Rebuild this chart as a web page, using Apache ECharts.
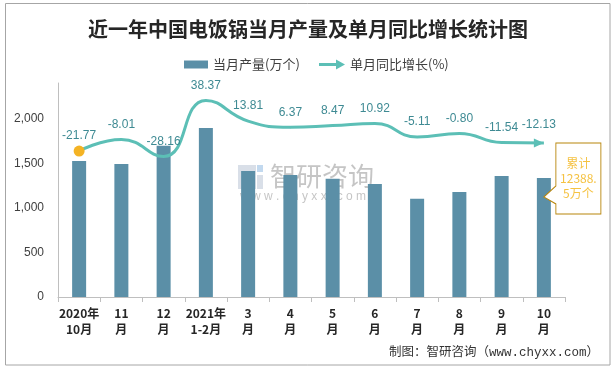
<!DOCTYPE html>
<html>
<head>
<meta charset="utf-8">
<script src="https://cdn.jsdelivr.net/npm/echarts@6/dist/echarts.min.js"></script>
<style>
html,body{margin:0;padding:0;background:#fff;}
#chart{width:616px;height:370px;}
</style>
</head>
<body>
<div id="chart"></div>
<script>
var categories = ['2020年\n10月', '11\n月', '12\n月', '2021年\n1-2月', '3\n月', '4\n月', '5\n月', '6\n月', '7\n月', '8\n月', '9\n月', '10\n月'];
var production = [1531, 1497, 1700, 1902, 1418, 1373, 1331, 1272, 1106, 1182, 1362, 1339];
var growth = [-21.77, -8.01, -28.16, 38.37, 13.81, 6.37, 8.47, 10.92, -5.11, -0.80, -11.54, -12.13];
var yTicks = [0, 500, 1000, 1500, 2000];
var cumulativeText = '累计\n12388.\n5万个';

var barColor = '#5B8FA7';
var lineColor = '#5CBFB6';

var lineData = growth.map(function (v, i) {
  var item = { value: v, symbol: 'circle', symbolSize: 2, itemStyle: { color: lineColor } };
  if (i === 0) {
    item.symbolSize = 11;
    item.itemStyle = { color: '#F4B324' };
    item.label = { distance: 4 };
  }
  if (i === growth.length - 1) {
    item.symbol = 'triangle';
    item.symbolSize = [9, 10];
    item.symbolRotate = -90;
    item.symbolOffset = [-5, 0];
    item.itemStyle = { color: lineColor };
  }
  return item;
});

var chart = echarts.init(document.getElementById('chart'), null, { renderer: 'canvas' });
var option = {
  animation: false,
  backgroundColor: '#fff',
  title: {
    text: '近一年中国电饭锅当月产量及单月同比增长统计图',
    left: 'center',
    top: 14,
    textStyle: { fontSize: 20, fontWeight: 'bold', color: '#262626', fontFamily: 'Noto Sans CJK SC' }
  },
  legend: [{
    data: [{ name: '当月产量(万个)', icon: 'rect' }],
    left: 179, top: 53,
    itemWidth: 24, itemHeight: 8,
    textStyle: { fontSize: 13, color: '#404040', fontFamily: 'Noto Sans CJK SC' }
  }, {
    data: [{ name: '单月同比增长(%)', icon: 'path://M0,3.5 L17,3.5 L17,0 L26,5 L17,10 L17,6.5 L0,6.5 Z' }],
    left: 314, top: 53,
    itemWidth: 26, itemHeight: 10,
    textStyle: { fontSize: 13, color: '#404040', fontFamily: 'Noto Sans CJK SC' }
  }],
  grid: { left: 58, right: 51, top: 83, bottom: 73 },
  xAxis: {
    type: 'category',
    data: categories,
    boundaryGap: true,
    axisLine: { lineStyle: { color: '#BFBFBF' } },
    axisTick: { show: true, length: 5, lineStyle: { color: '#BFBFBF' } },
    axisLabel: { fontSize: 12, fontWeight: 'bold', color: '#262626', lineHeight: 16, margin: 8, interval: 0, fontFamily: 'Noto Sans CJK SC' }
  },
  yAxis: [{
    type: 'value',
    min: 0, max: 2407, interval: 500,
    axisLine: { show: true, lineStyle: { color: '#BFBFBF' } },
    axisTick: { show: false },
    splitLine: { show: false },
    axisLabel: {
      showMaxLabel: false, fontSize: 12, color: '#404040', margin: 14, fontFamily: 'Liberation Sans',
      formatter: function (v) { return yTicks.indexOf(v) >= 0 ? echarts.format.addCommas(v) : ''; }
    }
  }, {
    type: 'value',
    min: -195, max: 59,
    show: false,
    splitLine: { show: false }
  }],
  series: [{
    name: '当月产量(万个)',
    type: 'bar',
    data: production,
    barWidth: 14,
    itemStyle: { color: barColor },
    markPoint: {
      symbol: 'path://M12,0 L57,0 L57,71 L12,71 L12,61 L0,54 L12,43 Z',
      symbolSize: [57, 71],
      symbolOffset: [28.5, 0.5],
      itemStyle: { color: '#ffffff', borderColor: '#B8860B', borderWidth: 1 },
      label: {
        show: true, position: 'inside', offset: [6, 0],
        formatter: cumulativeText,
        color: '#F5C242', fontSize: 12, lineHeight: 15, fontFamily: 'Noto Sans CJK SC'
      },
      data: [{ coord: [categories[categories.length - 1], production[production.length - 1]] }]
    }
  }, {
    name: '单月同比增长(%)',
    type: 'line',
    yAxisIndex: 1,
    data: lineData,
    smooth: 0.5,
    color: lineColor,
    lineStyle: { color: lineColor, width: 3 },
    label: {
      show: true, position: 'top', distance: 8,
      color: '#3E8A93', fontSize: 12, fontFamily: 'Liberation Sans',
      formatter: function (p) { return p.value.toFixed(2); }
    },
    z: 3
  }],
  graphic: [{
    type: 'rect',
    shape: { x: 5.5, y: 3.5, width: 604.5, height: 361.5 },
    style: { fill: 'none', stroke: '#A6A6A6', lineWidth: 1 },
    silent: true
  }, {
    type: 'group',
    left: 238, top: 163,
    silent: true,
    z: 10,
    children: [
      { type: 'rect', shape: { x: 0, y: 2, width: 18, height: 24 }, style: { fill: 'rgba(170,185,205,0.45)' } },
      { type: 'rect', shape: { x: 19, y: 2, width: 6, height: 7 }, style: { fill: 'rgba(120,170,220,0.45)' } },
      { type: 'rect', shape: { x: 19, y: 12, width: 6, height: 14 }, style: { fill: 'rgba(170,185,205,0.45)' } },
      { type: 'text', x: 32, y: 0, style: { text: '智研咨询', fontSize: 26, fill: 'rgba(150,150,150,0.55)', fontFamily: 'Noto Sans CJK SC' } },
      { type: 'text', x: 2, y: 28, style: { text: 'w w w . c h y x x . c o m', fontSize: 12, fill: 'rgba(150,150,150,0.55)', fontFamily: 'Liberation Sans' } }
    ]
  }, {
    type: 'text',
    right: 17, top: 346,
    style: { text: '制图：智研咨询（www.chyxx.com）', fontSize: 12.5, fill: '#333', fontFamily: 'Liberation Mono, Noto Sans CJK SC' },
    silent: true
  }]
};
chart.setOption(option);
</script>
</body>
</html>
